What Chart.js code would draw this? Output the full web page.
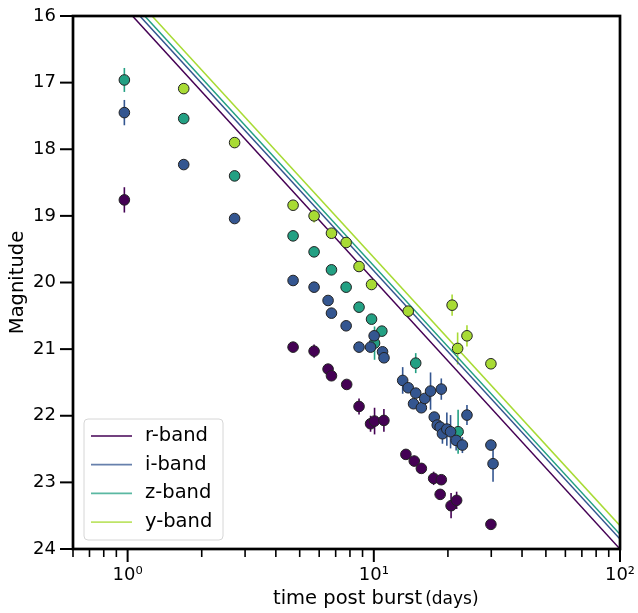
<!DOCTYPE html>
<html>
<head>
<meta charset="utf-8">
<script src="https://cdn.jsdelivr.net/npm/chart.js@4"></script>
<style>
  html, body { margin: 0; padding: 0; background: #fff; }
  #wrap { width: 638px; height: 613px; }
</style>
</head>
<body>
<div id="wrap"><canvas id="lc"></canvas></div>
<script>
// band names + colours (viridis)
const bands = ['r-band', 'i-band', 'z-band', 'y-band'];
const bandColors = ['#440154', '#345690', '#23a083', '#a8db34'];

// observations: time (days), magnitude, error
const rT   = [0.97, 4.70, 5.72, 6.52, 6.73, 7.76, 8.71, 9.7, 10.07, 10.99, 13.5, 14.6, 15.6, 17.5, 18.8, 18.6, 20.6, 21.7, 29.9];
const rMag = [18.76, 20.97, 21.03, 21.30, 21.40, 21.53, 21.86, 22.12, 22.08, 22.07, 22.58, 22.68, 22.79, 22.94, 22.96, 23.18, 23.35, 23.27, 23.63];
const rErr = [0.19, 0.04, 0.1, 0.04, 0.04, 0.04, 0.12, 0.12, 0.2, 0.17, 0.04, 0.08, 0.04, 0.1, 0.04, 0.04, 0.19, 0.13, 0.04];

const iT   = [0.97, 1.69, 2.72, 4.70, 5.72, 6.52, 6.73, 7.72, 8.71, 9.7, 10.03, 10.85, 11.0, 13.1, 13.8, 14.8, 14.5, 15.6, 16.1, 17.0, 18.8, 17.6, 18.1, 18.6, 19.0, 19.8, 20.5, 21.6, 22.9, 23.9, 29.9, 30.5];
const iMag = [17.45, 18.23, 19.04, 19.97, 20.07, 20.27, 20.46, 20.65, 20.97, 20.97, 20.80, 21.04, 21.13, 21.47, 21.58, 21.66, 21.82, 21.88, 21.74, 21.63, 21.60, 22.02, 22.14, 22.17, 22.27, 22.20, 22.24, 22.37, 22.44, 21.99, 22.44, 22.72];
const iErr = [0.19, 0.03, 0.03, 0.03, 0.03, 0.03, 0.03, 0.03, 0.03, 0.03, 0.03, 0.03, 0.03, 0.2, 0.05, 0.05, 0.05, 0.05, 0.05, 0.28, 0.16, 0.05, 0.05, 0.1, 0.15, 0.25, 0.25, 0.15, 0.12, 0.15, 0.05, 0.27];

const zT   = [0.97, 1.69, 2.72, 4.70, 5.72, 6.73, 7.72, 8.71, 9.79, 10.78, 10.07, 14.8, 22.0];
const zMag = [16.96, 17.54, 18.40, 19.30, 19.54, 19.81, 20.07, 20.37, 20.55, 20.73, 20.91, 21.21, 22.24];
const zErr = [0.18, 0.03, 0.03, 0.03, 0.03, 0.03, 0.03, 0.03, 0.03, 0.03, 0.25, 0.15, 0.33];

const yT   = [1.69, 2.72, 4.70, 5.72, 6.73, 7.72, 8.71, 9.79, 13.8, 20.8, 21.9, 23.9, 29.9];
const yMag = [17.09, 17.90, 18.84, 19.00, 19.26, 19.40, 19.76, 20.03, 20.43, 20.34, 20.99, 20.80, 21.22];
const yErr = [0.03, 0.03, 0.03, 0.1, 0.03, 0.03, 0.03, 0.03, 0.03, 0.16, 0.24, 0.16, 0.03];

// power-law decay model lines, evaluated at t = 1 and t = 100 days
const fitT   = [1, 100];
const rFit   = [15.92, 24.00];
const iFit   = [15.80, 23.85];
const zFit   = [15.72, 23.78];
const yFit   = [15.60, 23.65];

const xTicks = [1, 10, 100];
const xMinor = [0.6, 0.7, 0.8, 0.9, 2, 3, 4, 5, 6, 7, 8, 9, 20, 30, 40, 50, 60, 70, 80, 90];
const yTicks = [16, 17, 18, 19, 20, 21, 22, 23, 24];
const supLabel = { 1: '10\u2070', 10: '10\u00b9', 100: '10\u00b2' };

function pts(t, m) { return t.map((v, k) => ({ x: v, y: m[k] })); }

const obs = [[rT, rMag, rErr], [iT, iMag, iErr], [zT, zMag, zErr], [yT, yMag, yErr]];
const fits = [rFit, iFit, zFit, yFit];

const datasets = [];
fits.forEach((f, b) => {
  datasets.push({
    type: 'line', label: bands[b], data: pts(fitT, f),
    borderColor: bandColors[b], borderWidth: 1.5, pointRadius: 0,
    fill: false, order: 5
  });
});
obs.forEach((o, b) => {
  datasets.push({
    type: 'scatter', label: bands[b] + ' obs', data: pts(o[0], o[1]), err: o[2],
    backgroundColor: bandColors[b], borderColor: '#222', borderWidth: 1,
    pointRadius: 5.3, pointHoverRadius: 5.3, order: 1
  });
});

// error bars under the markers
const errorBars = {
  id: 'errorBars',
  beforeDatasetsDraw(chart) {
    const ctx = chart.ctx, xs = chart.scales.x, ys = chart.scales.y;
    const a = chart.chartArea;
    ctx.save();
    ctx.beginPath();
    ctx.rect(a.left, a.top, a.right - a.left, a.bottom - a.top);
    ctx.clip();
    ctx.lineWidth = 1.6;
    chart.data.datasets.forEach(ds => {
      if (!ds.err) return;
      ctx.strokeStyle = ds.backgroundColor;
      ds.data.forEach((p, k) => {
        const x = xs.getPixelForValue(p.x);
        ctx.beginPath();
        ctx.moveTo(x, ys.getPixelForValue(p.y - ds.err[k]));
        ctx.lineTo(x, ys.getPixelForValue(p.y + ds.err[k]));
        ctx.stroke();
      });
    });
    ctx.restore();
  }
};

// frame, tick marks, x title and legend box
const frameAndLegend = {
  id: 'frameAndLegend',
  afterDraw(chart) {
    const ctx = chart.ctx, xs = chart.scales.x, ys = chart.scales.y;
    const a = chart.chartArea;
    ctx.save();
    ctx.strokeStyle = '#000';
    ctx.lineWidth = 2;
    yTicks.forEach(v => {
      const y = ys.getPixelForValue(v);
      ctx.beginPath(); ctx.moveTo(a.left - 13, y); ctx.lineTo(a.left, y); ctx.stroke();
    });
    xTicks.forEach(v => {
      const x = xs.getPixelForValue(v);
      ctx.beginPath(); ctx.moveTo(x, a.bottom); ctx.lineTo(x, a.bottom + 13); ctx.stroke();
    });
    ctx.lineWidth = 1.6;
    xMinor.forEach(v => {
      const x = xs.getPixelForValue(v);
      ctx.beginPath(); ctx.moveTo(x, a.bottom); ctx.lineTo(x, a.bottom + 8); ctx.stroke();
    });
    ctx.lineWidth = 2.7;
    ctx.strokeRect(a.left, a.top, a.right - a.left, a.bottom - a.top);

    // x axis title, "(days)" a bit smaller
    ctx.fillStyle = '#000';
    ctx.textBaseline = 'alphabetic';
    ctx.textAlign = 'left';
    ctx.font = '19.5px "DejaVu Sans"';
    const t1 = 'time post burst';
    ctx.fillText(t1, 273, 604);
    const w1 = ctx.measureText(t1).width;
    ctx.font = '17px "DejaVu Sans"';
    ctx.fillText('(days)', 273 + w1 + 3, 604);

    // legend
    const lx = 84, ly = 419, lw = 139, lh = 121;
    ctx.beginPath();
    ctx.roundRect(lx, ly, lw, lh, 4);
    ctx.fillStyle = 'rgba(255,255,255,0.8)';
    ctx.fill();
    ctx.lineWidth = 1;
    ctx.strokeStyle = '#d6d6d6';
    ctx.stroke();
    ctx.font = '19.5px "DejaVu Sans"';
    ctx.textBaseline = 'middle';
    ctx.fillStyle = '#000';
    bands.forEach((name, b) => {
      const y = 436 + b * 28.7;
      ctx.globalAlpha = 0.75;
      ctx.strokeStyle = bandColors[b];
      ctx.lineWidth = 1.8;
      ctx.beginPath(); ctx.moveTo(91, y); ctx.lineTo(132, y); ctx.stroke();
      ctx.globalAlpha = 1;
      ctx.fillText(name, 145, y);
    });
    ctx.restore();
  }
};

function noPad(s) { s.paddingLeft = 0; s.paddingRight = 0; s.paddingTop = 0; s.paddingBottom = 0; }

new Chart(document.getElementById('lc'), {
  type: 'scatter',
  data: { datasets: datasets },
  options: {
    responsive: true,
    maintainAspectRatio: false,
    animation: false,
    events: [],
    layout: { padding: { left: 0, top: 16, right: 18, bottom: 0 } },
    plugins: { legend: { display: false }, tooltip: { enabled: false } },
    scales: {
      x: {
        type: 'logarithmic',
        min: 0.6, max: 100,
        afterFit(s) { s.height = 64; noPad(s); },
        afterBuildTicks(s) { s.ticks = xTicks.map(v => ({ value: v })); },
        grid: { display: false, drawTicks: false },
        border: { display: false },
        ticks: {
          autoSkip: false, maxRotation: 0, padding: 16, color: '#000',
          font: { family: 'DejaVu Sans', size: 18 },
          callback: v => supLabel[v] || ''
        }
      },
      y: {
        reverse: true,
        min: 16, max: 24,
        afterFit(s) { s.width = 73; noPad(s); },
        afterBuildTicks(s) { s.ticks = yTicks.map(v => ({ value: v })); },
        grid: { display: false, drawTicks: false },
        border: { display: false },
        ticks: {
          padding: 17, color: '#000',
          font: { family: 'DejaVu Sans', size: 18 }
        },
        title: {
          display: true, text: 'Magnitude', color: '#000',
          font: { family: 'DejaVu Sans', size: 19.5 },
          padding: { top: 6, bottom: 0 }
        }
      }
    }
  },
  plugins: [errorBars, frameAndLegend]
});
</script>
</body>
</html>
